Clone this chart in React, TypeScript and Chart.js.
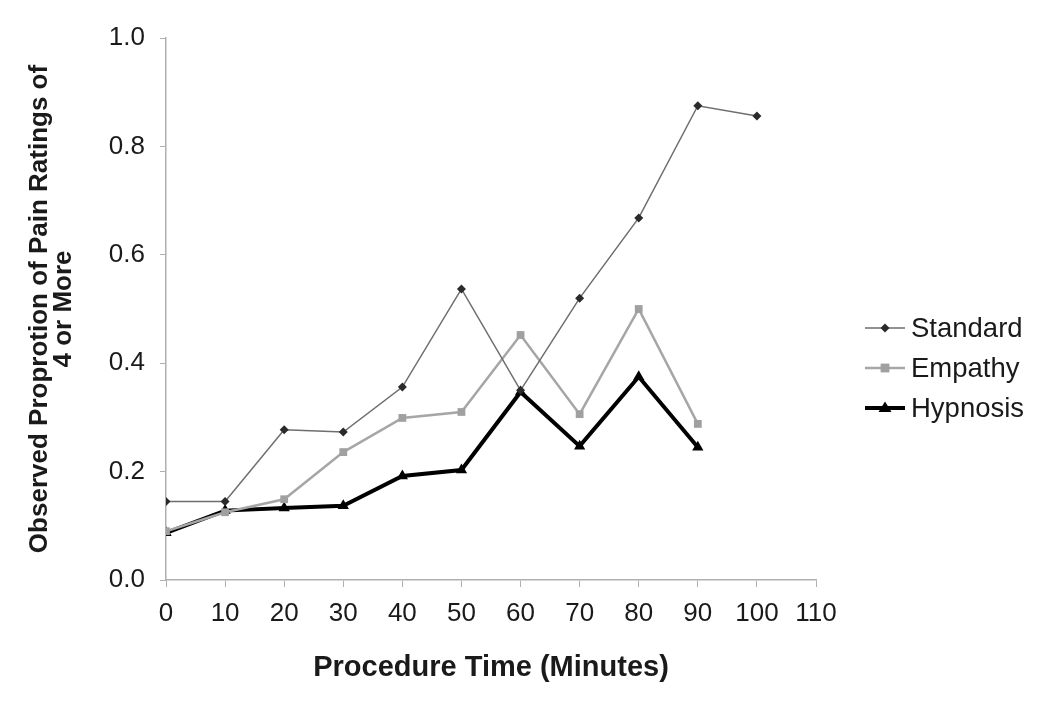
import React, { useEffect, useRef } from "react";
import { Chart, registerables } from "chart.js";

Chart.register(...registerables);

const minutesStandard = [0, 10, 20, 30, 40, 50, 60, 70, 80, 90, 100];
const standardValues = [0.145, 0.145, 0.277, 0.273, 0.356, 0.537, 0.35, 0.52, 0.668, 0.875, 0.856];
const minutesEmpathy = [0, 10, 20, 30, 40, 50, 60, 70, 80, 90];
const empathyValues = [0.09, 0.125, 0.149, 0.236, 0.299, 0.31, 0.452, 0.306, 0.5, 0.288];
const minutesHypnosis = [0, 10, 20, 30, 40, 50, 60, 70, 80, 90];
const hypnosisValues = [0.087, 0.128, 0.133, 0.137, 0.192, 0.203, 0.347, 0.247, 0.375, 0.245];
const seriesNames = ["Standard", "Empathy", "Hypnosis"];
const xTitle = "Procedure Time (Minutes)";
const yTitle = ["Observed Proprotion of Pain Ratings of", "4 or More"];

const FONT = "'Liberation Sans', Arial, sans-serif";

const legendPlugin = {
  id: "customLegend",
  afterDraw(chart: any) {
    const { ctx, chartArea } = chart;
    const x0 = chartArea.right + 49;
    const y0 = chartArea.top + 290;
    ctx.save();
    chart.data.datasets.forEach((ds: any, i: number) => {
      const y = y0 + i * 40;
      ctx.strokeStyle = ds.borderColor;
      ctx.lineWidth = ds.borderWidth;
      ctx.beginPath();
      ctx.moveTo(x0, y);
      ctx.lineTo(x0 + 40, y);
      ctx.stroke();
      ctx.fillStyle = ds.pointBackgroundColor;
      const r = ds.pointRadius;
      const cx = x0 + 20;
      ctx.beginPath();
      if (ds.pointStyle === "rectRot") {
        ctx.moveTo(cx, y - r);
        ctx.lineTo(cx + r, y);
        ctx.lineTo(cx, y + r);
        ctx.lineTo(cx - r, y);
      } else if (ds.pointStyle === "rect") {
        ctx.rect(cx - r * 0.8, y - r * 0.8, r * 1.6, r * 1.6);
      } else {
        ctx.moveTo(cx, y - r);
        ctx.lineTo(cx + r, y + r * 0.6);
        ctx.lineTo(cx - r, y + r * 0.6);
      }
      ctx.closePath();
      ctx.fill();
      ctx.fillStyle = "#1a1a1a";
      ctx.font = `27.5px ${FONT}`;
      ctx.textBaseline = "middle";
      ctx.textAlign = "left";
      ctx.fillText(ds.label, x0 + 46, y + 1);
    });
    ctx.restore();
  },
};

export default function App() {
  const ref = useRef<HTMLCanvasElement>(null);
  useEffect(() => {
    if (!ref.current) return;
    const toPts = (xs: number[], ys: number[]) => xs.map((x, i) => ({ x, y: ys[i] }));
    const chart = new Chart(ref.current, {
      type: "line",
      data: {
        datasets: [
          {
            label: seriesNames[0],
            data: toPts(minutesStandard, standardValues),
            borderColor: "#6e6e6e",
            borderWidth: 1.5,
            pointStyle: "rectRot",
            pointRadius: 4.5,
            pointBackgroundColor: "#2a2a2a",
            pointBorderColor: "#2a2a2a",
            pointBorderWidth: 0,
          },
          {
            label: seriesNames[1],
            data: toPts(minutesEmpathy, empathyValues),
            borderColor: "#a6a6a6",
            borderWidth: 2.5,
            pointStyle: "rect",
            pointRadius: 5.5,
            pointBackgroundColor: "#a0a0a0",
            pointBorderColor: "#a0a0a0",
            pointBorderWidth: 0,
          },
          {
            label: seriesNames[2],
            data: toPts(minutesHypnosis, hypnosisValues),
            borderColor: "#000000",
            borderWidth: 4,
            pointStyle: "triangle",
            pointRadius: 6.5,
            pointBackgroundColor: "#000000",
            pointBorderColor: "#000000",
            pointBorderWidth: 0,
          },
        ],
      },
      options: {
        responsive: false,
        animation: false,
        layout: { padding: { left: 0, right: 234, top: 38, bottom: 0 } },
        plugins: { legend: { display: false }, tooltip: { enabled: false } },
        scales: {
          x: {
            type: "linear",
            min: 0,
            max: 110,
            afterFit: (s: any) => { s.height = 132; },
            ticks: { stepSize: 10, color: "#1a1a1a", font: { family: FONT, size: 26 }, padding: 11, maxRotation: 0, autoSkip: false },
            grid: { display: true, drawOnChartArea: false, drawTicks: true, tickLength: 7, color: "#b0b0b0" },
            border: { color: "#b0b0b0", width: 1.5 },
            title: { display: true, text: xTitle, color: "#1a1a1a", font: { family: FONT, size: 29, weight: "bold" }, padding: { top: 10, bottom: 27 } },
          },
          y: {
            min: 0,
            max: 1,
            afterFit: (s: any) => { s.width = 166; },
            ticks: { stepSize: 0.2, color: "#1a1a1a", font: { family: FONT, size: 26 }, padding: 15, callback: (v: any) => Number(v).toFixed(1) },
            grid: { display: true, drawOnChartArea: false, drawTicks: true, tickLength: 6, color: "#b0b0b0" },
            border: { color: "#b0b0b0", width: 1.5 },
            title: { display: true, text: yTitle, color: "#1a1a1a", font: { family: FONT, size: 26, weight: "bold", lineHeight: 0.92 }, padding: { top: 28, bottom: 0 } },
          },
        },
      },
      plugins: [legendPlugin],
    } as any);
    return () => chart.destroy();
  }, []);
  return (
    <div style={{ position: "fixed", left: 0, top: 0, width: 1050, height: 712, background: "#fff" }}>
      <canvas ref={ref} width={1050} height={712} />
    </div>
  );
}
